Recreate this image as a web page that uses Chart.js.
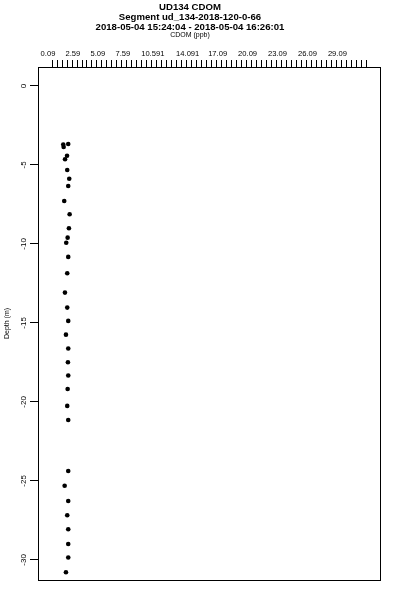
<!DOCTYPE html>
<html>
<head>
<meta charset="utf-8">
<script src="https://cdn.jsdelivr.net/npm/chart.js@4/dist/chart.umd.min.js"></script>
<style>
  html, body { margin: 0; padding: 0; background: #ffffff; }
  #wrap { width: 400px; height: 600px; }
</style>
</head>
<body>
<div id="wrap"><canvas id="c" width="400" height="600"></canvas></div>
<script>
// ---- data ----
const titleLines = ['UD134 CDOM', 'Segment ud_134-2018-120-0-66', '2018-05-04 15:24:04 - 2018-05-04 16:26:01'];
const xAxisTitle = 'CDOM (ppb)';
const yAxisTitle = 'Depth (m)';
const xTickLabels = [0.09, 2.59, 5.09, 7.59, 10.591, 14.091, 17.09, 20.09, 23.09, 26.09, 29.09];
const yTickValues = [0, -5, -10, -15, -20, -25, -30];
const depth = [-3.67, -3.71, -3.86, -4.42, -4.64, -5.32, -5.87, -6.33, -7.28, -8.12, -9.01, -9.60, -9.92,
  -10.82, -11.85, -13.08, -14.03, -14.87, -15.74, -16.62, -17.49, -18.33, -19.18, -20.25, -21.14,
  -24.37, -25.30, -26.27, -27.17, -28.06, -28.99, -29.85, -30.78];
const cdom = [2.12, 1.62, 1.66, 2.00, 1.80, 2.02, 2.22, 2.12, 1.72, 2.26, 2.19, 2.06, 1.92,
  2.12, 2.02, 1.79, 2.02, 2.12, 1.89, 2.12, 2.09, 2.12, 2.06, 2.02, 2.12,
  2.12, 1.76, 2.12, 2.02, 2.12, 2.12, 2.12, 1.89];

// minor tick marks on the CDOM axis (every 0.5 ppb)
const xMinorStep = 0.5;
const xMinorCount = 64;

const points = depth.map((d, i) => ({ x: cdom[i], y: d }));
const xMinor = [];
for (let k = 1; k <= xMinorCount; k++) xMinor.push(+(k * xMinorStep).toFixed(3));

const FONT = '"Liberation Sans", Arial, Helvetica, sans-serif';

const boxPlugin = {
  id: 'box',
  afterDraw(chart) {
    const a = chart.chartArea, ctx = chart.ctx;
    ctx.save();
    ctx.strokeStyle = '#000';
    ctx.lineWidth = 1;
    ctx.strokeRect(Math.round(a.left) + 0.5, Math.round(a.top) + 0.5,
      Math.round(a.right - a.left), Math.round(a.bottom - a.top));
    ctx.restore();
  }
};

new Chart(document.getElementById('c'), {
  type: 'scatter',
  data: {
    datasets: [{
      data: points,
      backgroundColor: '#000',
      borderColor: '#000',
      borderWidth: 0,
      pointRadius: 2.3,
      pointStyle: 'circle'
    }]
  },
  options: {
    responsive: false,
    animation: false,
    devicePixelRatio: 1,
    layout: { padding: { left: 0, top: 0, right: 20, bottom: 20 } },
    plugins: {
      legend: { display: false },
      tooltip: { enabled: false },
      title: {
        display: true,
        text: titleLines,
        color: '#000',
        font: { family: FONT, size: 9.6, weight: 'bold', lineHeight: 10 / 9.6 },
        padding: { top: 2, bottom: 0 }
      },
      subtitle: {
        display: true,
        text: xAxisTitle,
        color: '#000',
        font: { family: FONT, size: 7, lineHeight: 1 },
        padding: { top: 0, bottom: 0 }
      }
    },
    scales: {
      x: {
        type: 'linear',
        position: 'top',
        min: -0.91,
        max: 33.36,
        afterBuildTicks(scale) {
          const all = xMinor.concat(xTickLabels).sort((a, b) => a - b);
          scale.ticks = all.map(v => ({ value: v }));
        },
        afterFit(scale) { scale.height = 28; },
        ticks: {
          autoSkip: false,
          maxRotation: 0,
          minRotation: 0,
          padding: 2,
          color: '#000',
          font: { family: FONT, size: 7.6 },
          callback(v) { return xTickLabels.includes(v) ? String(v) : ''; }
        },
        grid: {
          drawOnChartArea: false,
          drawTicks: true,
          tickLength: 7,
          tickColor(ctx) {
            return ctx.tick && xTickLabels.includes(ctx.tick.value) ? 'rgba(0,0,0,0)' : '#000';
          },
          color: '#000'
        },
        border: { display: true, color: '#000', width: 1 }
      },
      y: {
        type: 'linear',
        position: 'left',
        min: -31.27,
        max: 1.2,
        afterBuildTicks(scale) {
          scale.ticks = yTickValues.map(v => ({ value: v }));
        },
        afterFit(scale) { scale.width = 38; },
        title: {
          display: true,
          text: yAxisTitle,
          color: '#000',
          font: { family: FONT, size: 7 },
          padding: { top: 3, bottom: 0 }
        },
        ticks: {
          minRotation: 90,
          maxRotation: 90,
          crossAlign: 'center',
          padding: 0,
          color: '#000',
          font: { family: FONT, size: 8 },
          callback(v) { return String(v); }
        },
        grid: {
          drawOnChartArea: false,
          drawTicks: true,
          tickLength: 8,
          tickColor: '#000',
          color: '#000'
        },
        border: { display: true, color: '#000', width: 1 }
      }
    }
  },
  plugins: [boxPlugin]
});
</script>
</body>
</html>
